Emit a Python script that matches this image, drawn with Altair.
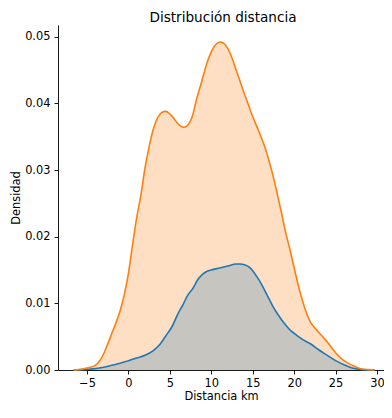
import altair as alt
import pandas as pd

# Orange KDE (larger group)
orange_x = [-6.6, -6.0, -5.0, -4.0, -3.5, -3.0, -2.5, -2.0, -1.5, -1.0, -0.5, 0.0, 0.5, 1.0, 1.5,
            2.0, 2.5, 3.0, 3.5, 4.0, 4.5, 5.0, 5.5, 6.0, 6.7, 7.2, 7.7, 8.2, 8.8, 9.6, 10.4,
            11.1, 11.6, 12.0, 12.5, 13.0, 13.5, 14.0, 14.5, 15.0, 15.5, 16.0, 16.5, 17.0,
            17.5, 18.0, 18.5, 19.0, 19.5, 20.0, 20.5, 21.0, 21.5, 22.0, 22.5, 23.0, 23.5,
            24.0, 25.0, 26.0, 27.0, 28.0, 29.0, 29.7]
orange_y = [0.0, 0.00005, 0.0003, 0.0007, 0.0013, 0.0024, 0.0039, 0.0055, 0.0071, 0.0089, 0.0113,
            0.0145, 0.0188, 0.0229, 0.0262, 0.0303, 0.0335, 0.0361, 0.0378, 0.0386, 0.0388,
            0.0384, 0.0377, 0.0369, 0.0364, 0.0368, 0.0380, 0.0405, 0.0431, 0.0465, 0.0486,
            0.0492, 0.0489, 0.0482, 0.0468, 0.0450, 0.0432, 0.0414, 0.0397, 0.0380, 0.0365,
            0.0350, 0.0333, 0.0312, 0.0289, 0.0262, 0.0234, 0.0205, 0.0180, 0.0153, 0.0127,
            0.0104, 0.0085, 0.0071, 0.0063, 0.0056, 0.0049, 0.0042, 0.0026, 0.0014, 0.0007,
            0.0002, 0.00005, 0.0]

# Blue KDE (smaller group)
blue_x = [-6.6, -5.0, -4.0, -3.0, -2.0, -1.0, 0.0, 1.0, 2.0, 3.0, 3.7, 4.5, 5.3, 6.0, 6.5, 7.2,
          7.7, 8.4, 8.9, 9.5, 10.0, 11.0, 12.0, 13.0, 13.5, 14.0, 14.5, 15.0, 15.5, 16.0, 16.5,
          17.0, 17.5, 18.0, 18.5, 19.0, 19.5, 20.0, 21.0, 22.0, 23.0, 24.0, 25.0, 26.0, 27.0,
          28.0, 29.7]
blue_y = [0.0, 0.0001, 0.0002, 0.0004, 0.0007, 0.0010, 0.0014, 0.0018, 0.0022, 0.0029, 0.0037,
          0.0051, 0.0066, 0.0085, 0.0096, 0.0113, 0.0121, 0.0136, 0.0143, 0.0148, 0.0150,
          0.0153, 0.0156, 0.0159, 0.0159, 0.0158, 0.0155, 0.0149, 0.0140, 0.0130, 0.0118,
          0.0106, 0.0094, 0.0084, 0.0075, 0.0067, 0.0060, 0.0055, 0.0046, 0.0039, 0.0030,
          0.0022, 0.0014, 0.0008, 0.0003, 0.0001, 0.0]

series_names = ["b", "a"]
series_colors = ["#1f77b4", "#ff7f0e"]

x_ticks = [-5, 0, 5, 10, 15, 20, 25, 30]
y_ticks = [0.0, 0.01, 0.02, 0.03, 0.04, 0.05]

df = pd.concat([
    pd.DataFrame({"x": orange_x, "d": orange_y, "s": series_names[1]}),
    pd.DataFrame({"x": blue_x, "d": blue_y, "s": series_names[0]}),
])

X = alt.X("x:Q", scale=alt.Scale(domain=[-8.5, 30.84], nice=False, zero=False),
          axis=alt.Axis(values=x_ticks, format="d", title="Distancia km", grid=False,
                        labelPadding=3.5, titlePadding=2))
Y = alt.Y("d:Q", scale=alt.Scale(domain=[0, 0.05175], nice=False),
          axis=alt.Axis(values=y_ticks, format=".2f", title="Densidad", grid=False,
                        labelPadding=4, titlePadding=3.5))
C = alt.Color("s:N", scale=alt.Scale(domain=series_names, range=series_colors), legend=None)

base = alt.Chart(df)
area_o = base.transform_filter(alt.datum.s == "a").mark_area(opacity=0.25, interpolate="monotone").encode(x=X, y=Y, color=C)
area_b = base.transform_filter(alt.datum.s == "b").mark_area(opacity=0.25, interpolate="monotone").encode(x=X, y=Y, color=C)
line_b = base.transform_filter(alt.datum.s == "b").mark_line(strokeWidth=1.6, interpolate="monotone").encode(x=X, y=Y, color=C)
line_o = base.transform_filter(alt.datum.s == "a").mark_line(strokeWidth=1.6, interpolate="monotone").encode(x=X, y=Y, color=C)

chart = alt.layer(area_o, area_b, line_b, line_o).properties(
    width=326, height=345,
    title=alt.TitleParams("Distribución distancia", anchor="middle", fontSize=13.6,
                          font="DejaVu Sans", fontWeight="normal", color="black",
                          frame="group", offset=0.5, dx=2),
    autosize=alt.AutoSizeParams(type="none"),
    padding={"left": 50, "top": 17, "right": 0, "bottom": 33},
).configure_view(stroke=None).configure_axis(
    domainColor="black", domainWidth=0.9, tickColor="black", tickWidth=0.9, tickSize=4,
    labelFont="DejaVu Sans", labelFontSize=11.4, labelColor="black",
    titleFont="DejaVu Sans", titleFontSize=11.4, titleFontWeight="normal", titleColor="black",
)

chart.save("out.html", embed_options={"renderer": "svg", "actions": False})
